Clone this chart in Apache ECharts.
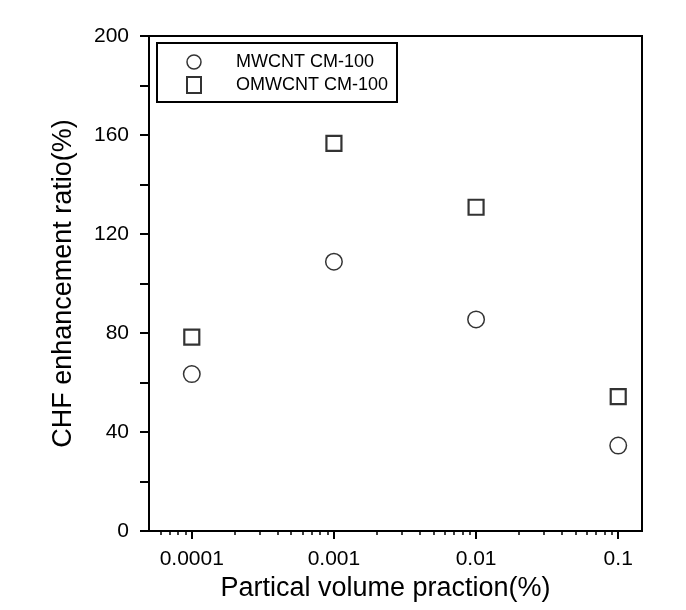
<!DOCTYPE html>
<html>
<head>
<meta charset="utf-8">
<script src="https://cdn.jsdelivr.net/npm/echarts@6/dist/echarts.min.js"></script>
<style>html,body{margin:0;padding:0;background:#fff}#c{width:686px;height:610px}</style>
</head>
<body>
<div id="c"></div>
<script>
var fractions = [0.0001, 0.001, 0.01, 0.1];
var mwcnt = [63.4, 108.8, 85.5, 34.5];
var omwcnt = [78.3, 156.6, 130.8, 54.3];
var seriesNames = ['MWCNT CM-100', 'OMWCNT CM-100'];
var xMajorTicks = [0.0001, 0.001, 0.01, 0.1];
var xTickLabels = ['0.0001', '0.001', '0.01', '0.1'];
var xMinorTicks = [0.00006, 0.00007, 0.00008, 0.00009,
  0.0002, 0.0003, 0.0004, 0.0005, 0.0006, 0.0007, 0.0008, 0.0009,
  0.002, 0.003, 0.004, 0.005, 0.006, 0.007, 0.008, 0.009,
  0.02, 0.03, 0.04, 0.05, 0.06, 0.07, 0.08, 0.09];
var xTitle = 'Partical volume praction(%)';
var yTitle = 'CHF enhancement ratio(%)';

var FONT = '"Liberation Sans", Arial, sans-serif';
var XMIN = 0.00005, XMAX = 0.147;

var chart = echarts.init(document.getElementById('c'), null, {renderer: 'canvas'});
function pairs(vals) { return fractions.map(function (f, i) { return [f, vals[i]]; }); }
var legendText = {fontFamily: FONT, fontSize: 18, color: '#000', padding: [0, 0, 0, 30]};

chart.setOption({
  animation: false,
  backgroundColor: '#fff',
  grid: {left: 149, right: 44, top: 36, bottom: 79, show: true, borderColor: '#000', borderWidth: 2, backgroundColor: 'transparent'},
  legend: {
    orient: 'vertical', left: 157, top: 43,
    padding: [10, 9, 8, 29],
    itemGap: 5, itemWidth: 14, itemHeight: 16,
    borderColor: '#000', borderWidth: 2,
    textStyle: legendText,
    data: [
      {name: seriesNames[0], icon: 'circle', itemStyle: {color: '#fff', borderColor: '#000', borderWidth: 1.5}},
      {name: seriesNames[1], icon: 'rect', itemStyle: {color: '#fff', borderColor: '#000', borderWidth: 2}}
    ]
  },
  xAxis: [{
    type: 'log', min: XMIN, max: XMAX, position: 'bottom',
    name: xTitle, nameLocation: 'middle', nameGap: 42,
    nameTextStyle: {fontFamily: FONT, fontSize: 27, color: '#000', padding: [0, 20, 0, 0]},
    axisLine: {show: true, onZero: false, lineStyle: {color: '#000', width: 2}},
    axisTick: {show: true, inside: false, length: 8, customValues: xMajorTicks, lineStyle: {color: '#000', width: 2}},
    axisLabel: {show: true, margin: 18, fontFamily: FONT, fontSize: 21, color: '#000', customValues: xMajorTicks,
      formatter: function (v) { var i = xMajorTicks.findIndex(function (t) { return Math.abs(Math.log10(t) - Math.log10(v)) < 1e-6; }); return i >= 0 ? xTickLabels[i] : ''; }},
    splitLine: {show: false}, minorTick: {show: false}
  }, {
    type: 'log', min: XMIN, max: XMAX, position: 'bottom',
    axisLine: {show: false, onZero: false},
    axisTick: {show: true, inside: false, length: 4, customValues: xMinorTicks, lineStyle: {color: '#000', width: 1.5}},
    axisLabel: {show: false},
    splitLine: {show: false}
  }],
  yAxis: {
    type: 'value', min: 0, max: 200, interval: 40,
    name: yTitle, nameLocation: 'middle', nameGap: 72,
    nameTextStyle: {fontFamily: FONT, fontSize: 27, color: '#000'},
    axisLine: {show: true, lineStyle: {color: '#000', width: 2}},
    axisTick: {show: true, inside: false, length: 9, lineStyle: {color: '#000', width: 2}},
    minorTick: {show: true, splitNumber: 2, length: 9, lineStyle: {color: '#000', width: 2}},
    axisLabel: {margin: 20, fontFamily: FONT, fontSize: 21, color: '#000'},
    splitLine: {show: false}, minorSplitLine: {show: false}
  },
  series: [{
    name: seriesNames[0], type: 'scatter', xAxisIndex: 0, symbol: 'circle', symbolSize: 16.5,
    itemStyle: {color: '#fff', borderColor: '#000', borderWidth: 1.5},
    data: pairs(mwcnt)
  }, {
    name: seriesNames[1], type: 'scatter', xAxisIndex: 0, symbol: 'rect', symbolSize: 15,
    itemStyle: {color: '#fff', borderColor: '#000', borderWidth: 2.2},
    data: pairs(omwcnt)
  }]
});
</script>
</body>
</html>
